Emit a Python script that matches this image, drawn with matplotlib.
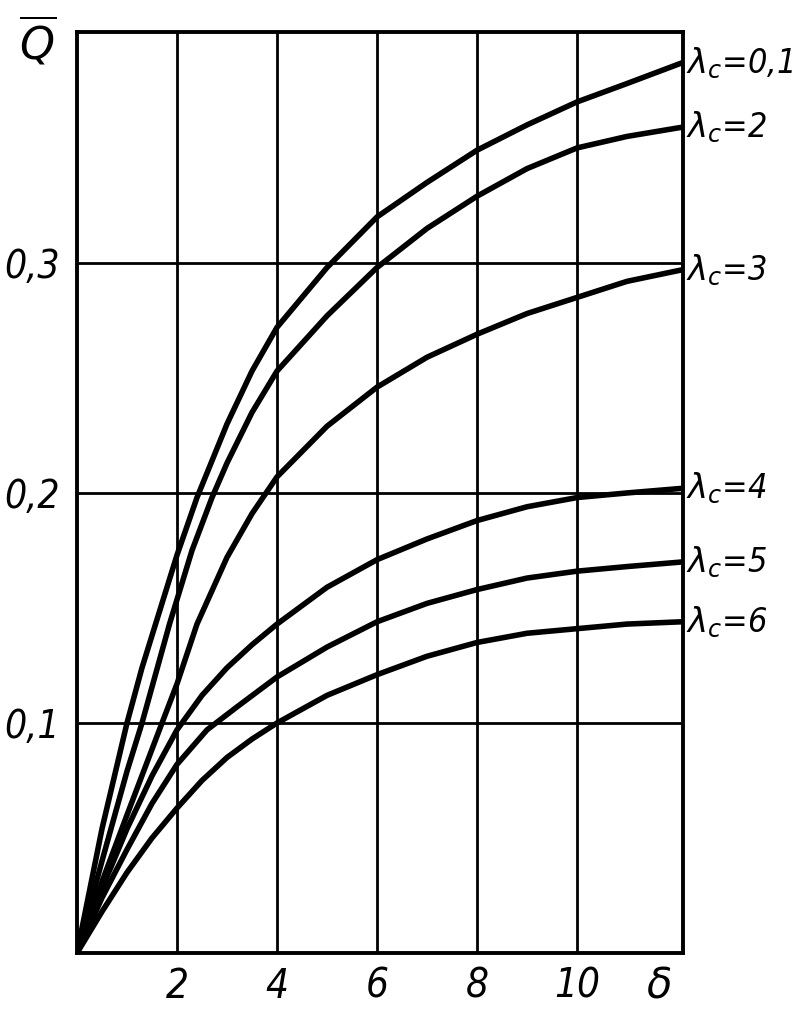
import matplotlib
matplotlib.use("Agg")
import matplotlib.pyplot as plt

# ---- data ----
x_l01 = [0, 0.5, 1, 1.3, 1.6, 2, 2.4, 3, 3.5, 4, 5, 6, 7, 8, 9, 10, 11, 12.1]
q_l01 = [0, 0.054, 0.1, 0.124, 0.145, 0.173, 0.198, 0.23, 0.253, 0.272, 0.298, 0.32, 0.335, 0.349, 0.36, 0.37, 0.378, 0.387]

x_l2 = [0, 0.5, 1, 1.3, 1.85, 2.3, 2.7, 3, 3.5, 4, 5, 6, 7, 8, 9, 10, 11, 12.1]
q_l2 = [0, 0.04, 0.079, 0.1, 0.143, 0.175, 0.198, 0.213, 0.235, 0.253, 0.277, 0.298, 0.315, 0.329, 0.341, 0.35, 0.355, 0.359]

x_l3 = [0, 0.5, 1, 1.7, 2, 2.4, 3, 3.5, 4, 5, 6, 7, 8, 9, 10, 11, 12.1]
q_l3 = [0, 0.031, 0.06, 0.1, 0.117, 0.143, 0.172, 0.191, 0.207, 0.229, 0.246, 0.259, 0.269, 0.278, 0.285, 0.292, 0.297]

x_l4 = [0, 0.5, 1, 1.5, 2, 2.5, 3, 3.5, 4, 5, 6, 7, 8, 9, 10, 11, 12.1]
q_l4 = [0, 0.028, 0.054, 0.077, 0.097, 0.112, 0.124, 0.134, 0.143, 0.159, 0.171, 0.18, 0.188, 0.194, 0.198, 0.2, 0.202]

x_l5 = [0, 0.5, 1, 1.5, 2, 2.6, 3.2, 4, 5, 6, 7, 8, 9, 10, 11, 12.1]
q_l5 = [0, 0.024, 0.045, 0.065, 0.082, 0.097, 0.107, 0.12, 0.133, 0.144, 0.152, 0.158, 0.163, 0.166, 0.168, 0.17]

x_l6 = [0, 0.5, 1, 1.5, 2, 2.5, 3, 3.5, 4, 5, 6, 7, 8, 9, 10, 11, 12.1]
q_l6 = [0, 0.018, 0.035, 0.05, 0.063, 0.075, 0.085, 0.093, 0.1, 0.112, 0.121, 0.129, 0.135, 0.139, 0.141, 0.143, 0.144]

series = [
    (x_l01, q_l01, "0,1"),
    (x_l2, q_l2, "2"),
    (x_l3, q_l3, "3"),
    (x_l4, q_l4, "4"),
    (x_l5, q_l5, "5"),
    (x_l6, q_l6, "6"),
]

x_ticks = [2, 4, 6, 8, 10]
x_ticklabels = ["2", "4", "6", "8", "10"]
y_ticks = [0.1, 0.2, 0.3]
y_ticklabels = ["0,1", "0,2", "0,3"]

# ---- figure ----
plt.rcParams['font.family'] = ['Liberation Sans Narrow', 'DejaVu Sans']
plt.rcParams['mathtext.fontset'] = 'dejavusans'

fig = plt.figure(figsize=(7.98, 10.09), dpi=100)
ax = fig.add_axes([77/798, 1 - 953/1009, (683 - 77)/798, (953 - 32)/1009])
ax.set_xlim(0, 12.12)
ax.set_ylim(0, 0.4004)

for xs, qs, lab in series:
    ax.plot(xs, qs, color='black', lw=4.0, solid_capstyle='round', solid_joinstyle='round', zorder=3)
    ax.annotate(r'$\lambda_c$' + '=' + lab, xy=(1, qs[-1]), xycoords=('axes fraction', 'data'),
                xytext=(2, 0), textcoords='offset points', ha='left', va='center',
                fontsize=24.5, style='italic', fontstretch='condensed', color='black',
                annotation_clip=False)

ax.set_xticks(x_ticks)
ax.set_xticklabels(x_ticklabels, fontsize=29, style='italic', fontstretch='condensed')
ax.set_yticks(y_ticks)
ax.set_yticklabels(y_ticklabels, fontsize=28, style='italic', fontstretch='condensed')
ax.tick_params(axis='x', length=0, pad=10)
ax.tick_params(axis='y', length=0, pad=12)
ax.grid(True, color='black', lw=2.0, zorder=1)

for sp in ax.spines.values():
    sp.set_linewidth(2.8)
    sp.set_color('black')

fig.text(38/798, 1 - 42/1009, r'$\overline{\mathit{Q}}$', fontsize=32, ha='center', va='center')
ax.text(11.65, -0.0145, 'δ', fontsize=30, style='italic', ha='center', va='center')

fig.savefig('out.png', dpi=100)
